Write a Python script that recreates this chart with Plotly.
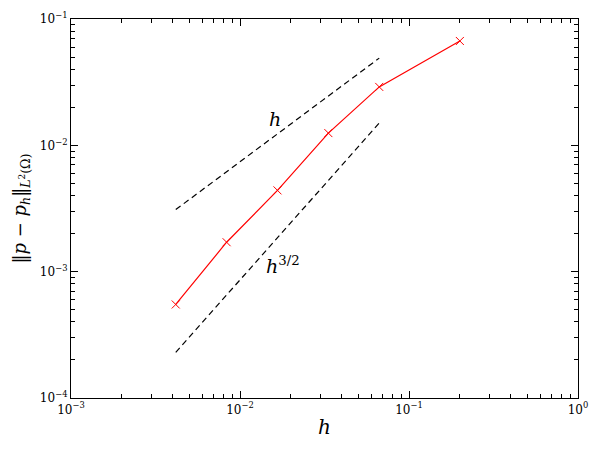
import plotly.graph_objects as go

# mesh size and L2 pressure error
h = [1/240, 1/120, 1/60, 1/30, 1/15, 1/5]
err = [5.5e-4, 1.71e-3, 4.4e-3, 1.25e-2, 2.9e-2, 6.7e-2]

# reference slope lines: endpoints only
ref_x = [1/240, 1/15]
ref_h = [3.1e-3, 4.9e-2]
ref_h32 = [2.3e-4, 1.5e-2]

# axis ticks
x_major = [1e-3, 1e-2, 1e-1, 1e0]
x_labels = ["10<sup>−3</sup>", "10<sup>−2</sup>", "10<sup>−1</sup>", "10<sup>0</sup>"]
y_major = [1e-4, 1e-3, 1e-2, 1e-1]
y_labels = ["10<sup>−4</sup>", "10<sup>−3</sup>", "10<sup>−2</sup>", "10<sup>−1</sup>"]

font = "DejaVu Serif"


def minors(lo, hi):
    out = []
    for e in range(lo, hi):
        out += [m * 10.0 ** e for m in range(2, 10)]
    return out


fig = go.Figure()
fig.add_trace(go.Scatter(x=ref_x, y=ref_h, mode="lines",
                         line=dict(color="black", width=1.2, dash="6px,4px")))
fig.add_trace(go.Scatter(x=ref_x, y=ref_h32, mode="lines",
                         line=dict(color="black", width=1.2, dash="6px,4px")))
fig.add_trace(go.Scatter(x=h, y=err, mode="lines+markers",
                         line=dict(color="red", width=1.2),
                         marker=dict(symbol="x-thin", size=8,
                                     line=dict(color="red", width=1))))

fig.add_annotation(x=-1.79, y=-1.79, xref="x", yref="y", text="<i>h</i>",
                   showarrow=False, font=dict(family=font, size=19, color="black"))
fig.add_annotation(x=-1.745, y=-2.95, xref="x", yref="y", text="<i>h</i><sup>3/2</sup>",
                   showarrow=False, font=dict(family=font, size=19, color="black"))

axis = dict(type="log", tickmode="array", showgrid=False, automargin=False,
            ticks="inside", ticklen=7, tickwidth=1, tickcolor="black",
            mirror="allticks", showline=True, linecolor="black", linewidth=1.2,
            zeroline=False, tickfont=dict(family=font, size=12, color="black"))

fig.update_xaxes(**axis, range=[-3, 0], tickvals=x_major, ticktext=x_labels,
                 minor=dict(ticks="inside", ticklen=3.5, tickcolor="black",
                            tickvals=minors(-3, 0), showgrid=False),
                 title=dict(text="<i>h</i>", font=dict(family=font, size=20, color="black"),
                            standoff=4))
fig.update_yaxes(**axis, range=[-4, -1], tickvals=y_major, ticktext=y_labels,
                 minor=dict(ticks="inside", ticklen=3.5, tickcolor="black",
                            tickvals=minors(-4, -1), showgrid=False),
                 title=dict(text="‖<i>p</i> − <i>p</i><sub><i>h</i></sub>‖<sub><i>L</i><sup>2</sup>(Ω)</sub>",
                            font=dict(family=font, size=18, color="black"), standoff=8))

fig.update_layout(width=600, height=450, showlegend=False,
                  font=dict(family=font, color="black"),
                  plot_bgcolor="white", paper_bgcolor="white",
                  margin=dict(l=71, r=22, t=19, b=52))

# drop the page's default body margin so the figure sits at the window corner
fig.write_html("out.html", config={"displayModeBar": False},
               post_script="document.body.style.margin='0';")
